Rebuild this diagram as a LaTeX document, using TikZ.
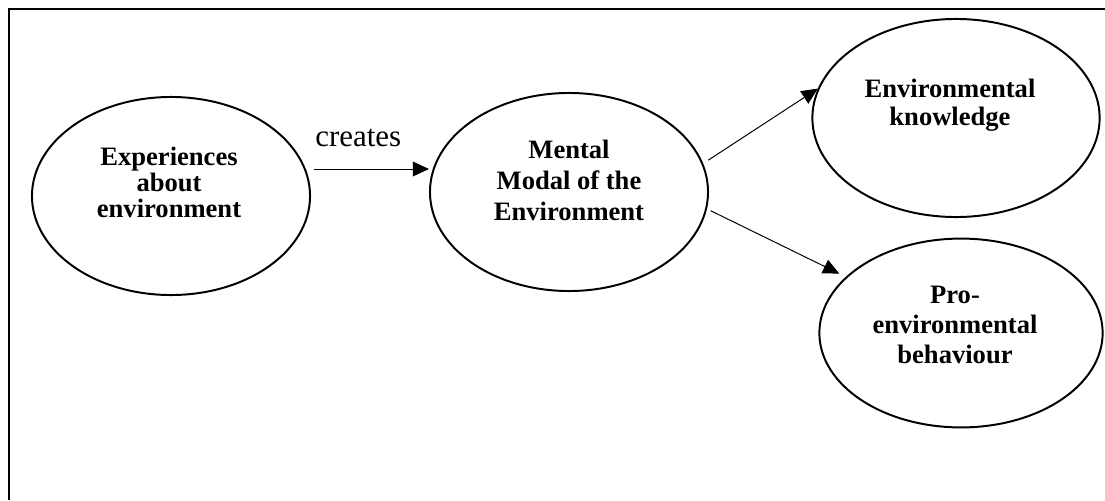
\documentclass[tikz,border=0pt]{standalone}
\usepackage{fontspec}
\setmainfont{Liberation Serif}
\usetikzlibrary{arrows.meta,shapes.geometric,positioning}

\begin{document}
\begin{tikzpicture}[x=0.025cm,y=-0.025cm,
	bubble/.style={draw,ellipse,line width=1.4pt,inner sep=0pt},
	bubtext/.style={align=center,inner sep=0pt,font=\fontsize{18.9}{#1}\selectfont\bfseries},
	arr/.style={-{Triangle[length=11.5pt,width=10.5pt]},line width=0.7pt},
	frame/.style={line width=1.4pt}]
	\useasboundingbox (0,0) rectangle (1105,500);
	\draw[frame] (9,500) -- (9,9) -- (1105,9);

	\node[bubble,minimum width=6.95cm,minimum height=4.95cm] (exper) at (171,196) {};
	\node[bubble,minimum width=6.95cm,minimum height=4.95cm] (mental) at (569,192) {};
	\node[bubble,minimum width=7.18cm,minimum height=4.95cm] (knowl) at (956,118) {};
	\node[bubble,minimum width=7.08cm,minimum height=4.72cm] (behav) at (961,333) {};

	\node[bubtext=18.5pt] (experT) at ([xshift=-0.05cm,yshift=0.33cm]exper.center) {Experiences\\about\\environment};
	\node[bubtext=22pt] (mentalT) at ([yshift=0.28cm]mental.center) {Mental\\Modal of the\\Environment};
	\node[bubtext=19.9pt] (knowlT) at ([xshift=-0.15cm,yshift=0.32cm]knowl.center) {Environmental\\knowledge};
	\node[bubtext=21.3pt] (behavT) at ([xshift=-0.15cm,yshift=0.2cm]behav.center) {Pro-\\environmental\\behaviour};

	\coordinate (crt) at (314,169);
	\node[anchor=base west,inner sep=0pt,font=\fontsize{22}{24}\selectfont] (creates) at (315,146) {creates};
	\draw[arr] (crt) -- (crt -| mental.west);
	\draw[arr,shorten <=0.15cm] (mental.12) -- (knowl.168);
	\draw[arr,shorten <=0.1cm,shorten >=0.18cm] (mental.-7) -- (behav.154);
\end{tikzpicture}
\end{document}
